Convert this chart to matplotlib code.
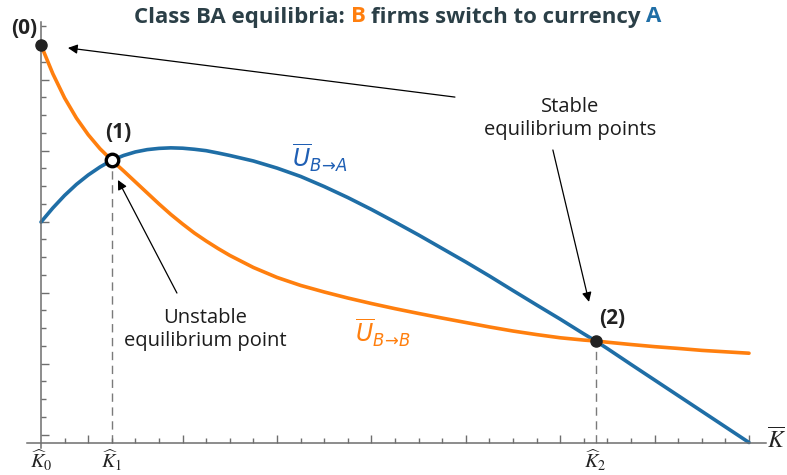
import matplotlib
matplotlib.use('Agg')
import matplotlib.pyplot as plt

# 颜色
ORANGE = '#ff7f0e'
BLUE = '#1f6ea6'
BLUE_TXT = '#1f5fb4'
DARK = '#2b3f47'
INK = '#1c1c1c'
AXIS = '#6e6e6e'
FONT = 'Open Sans'

# 曲线采样 (横轴 K̄，纵轴 Ū)
k_grid = [0, 0.5, 1, 1.5, 2, 2.5, 3, 3.5, 4, 4.5, 5, 5.5, 6, 6.5, 7, 7.5, 8,
          9, 10, 11, 12, 13, 14, 15, 16, 17, 18, 19, 20, 21, 22, 23, 23.5,
          24, 25, 26, 27, 28, 29, 30]
u_bb = [22.39, 20.78, 19.41, 18.28, 17.34, 16.55, 15.9, 15.30, 14.68, 14.06, 13.44,
        12.85, 12.31, 11.80, 11.35, 10.93, 10.54,
        9.86, 9.30, 8.85, 8.48, 8.14, 7.83, 7.54, 7.27, 7.01, 6.76, 6.51, 6.28,
        6.08, 5.90, 5.77, 5.72,
        5.65, 5.52, 5.40, 5.30, 5.19, 5.11, 5.03]
u_ba = [12.42, 13.21, 13.92, 14.54, 15.07, 15.52, 15.9, 16.17, 16.37, 16.50, 16.57,
        16.60, 16.58, 16.52, 16.44, 16.31, 16.17,
        15.86, 15.46, 14.99, 14.42, 13.80, 13.13, 12.42, 11.69, 10.93, 10.17, 9.38,
        8.56, 7.75, 6.95, 6.12, 5.72,
        5.29, 4.40, 3.52, 2.64, 1.76, 0.88, 0.0]

# 均衡点
k_hat = [0, 3, 23.5]
u_eq = [22.39, 15.9, 5.72]
k_labels = [r'$\widehat{K}_{\mathit{0}}$', r'$\widehat{K}_{\mathit{1}}$', r'$\widehat{K}_{\mathit{2}}$']
eq_names = ['(0)', '(1)', '(2)']

# 坐标轴刻度
x_major = [2, 6, 10, 14, 18, 22, 26, 30]
x_minor = [k for k in range(1, 31) if k not in x_major]
y_major = [0.45 + 4 * i for i in range(6)]
y_minor = [0.45 + i for i in range(24) if i % 4 != 0]

W, H = 787, 475
X0, Y0 = 41, 442.5      # 原点像素位置
SX, SY = 23.6, 17.75    # 每单位像素

fig = plt.figure(figsize=(W / 100, H / 100), dpi=100)
ax = fig.add_axes([0, 0, 1, 1])
ax.set_xlim(-X0 / SX, (W - X0) / SX)
ax.set_ylim((Y0 - H) / SY, Y0 / SY)

# 坐标轴
for s in ['top', 'right']:
    ax.spines[s].set_visible(False)
ax.spines['left'].set_position(('data', 0))
ax.spines['bottom'].set_position(('data', 0))
ax.spines['left'].set_bounds(-0.3, 23.7)
ax.spines['bottom'].set_bounds(-0.6, 30.7)
for s in ['left', 'bottom']:
    ax.spines[s].set_color(AXIS)
    ax.spines[s].set_linewidth(1.1)
ax.set_xticks(x_major)
ax.set_xticks(x_minor, minor=True)
ax.set_yticks(y_major)
ax.set_yticks(y_minor, minor=True)
ax.tick_params(which='both', direction='in', color=AXIS, width=1,
               labelbottom=False, labelleft=False)
ax.tick_params(which='major', length=6)
ax.tick_params(which='minor', length=3.4)

# 均衡点竖虚线
for k, u in zip(k_hat[1:], u_eq[1:]):
    ax.plot([k, k], [0, u], color='#7a7a7a', lw=1, dashes=(6, 4), zorder=1)

ax.plot(k_grid, u_ba, color=BLUE, lw=2.6, solid_capstyle='round',
        solid_joinstyle='round', zorder=2)
ax.plot(k_grid, u_bb, color=ORANGE, lw=2.6, solid_capstyle='round',
        solid_joinstyle='round', zorder=3)

# 均衡点
ax.plot(k_hat[0], u_eq[0], 'o', ms=8, color='#222222', zorder=5, clip_on=False)
ax.plot(k_hat[1], u_eq[1], 'o', ms=9, mfc='white', mec='black', mew=2.4, zorder=5)
ax.plot(k_hat[2], u_eq[2], 'o', ms=8, color='#222222', zorder=5)

label_pos = [(-0.72, 23.35), (3.26, 17.44), (24.2, 7.01)]
for name, (x, y) in zip(eq_names, label_pos):
    ax.text(x, y, name, ha='center', va='center', fontsize=15, fontweight='bold',
            color='#222222', family=FONT)

# 横轴标注
for k, lab in zip(k_hat, k_labels):
    ax.text(k, -0.32, lab, ha='center', va='top', fontsize=14.5, color='#222222',
            math_fontfamily='stix')
ax.text(30.76, 0.1, r'$\overline{K}$', ha='left', va='center', fontsize=17,
        color='#222222', math_fontfamily='stix')

# 曲线名称
ax.text(11.82, 16.03, r'$\overline{U}_{B\!\to\!A}$', ha='center', va='center',
        fontsize=17, color=BLUE_TXT, math_fontfamily='dejavusans')
ax.text(14.49, 6.17, r'$\overline{U}_{B\!\to\!B}$', ha='center', va='center',
        fontsize=17, color=ORANGE, math_fontfamily='dejavusans')

# 注释与箭头
arrow = dict(arrowstyle='-|>', lw=0.9, color='black', mutation_scale=14,
             shrinkA=0, shrinkB=0)
ax.text(22.42, 18.28, 'Stable\nequilibrium points', ha='center', va='center',
        fontsize=14.5, color=INK, family=FONT, linespacing=1.2)
ax.annotate('', xy=(1.14, 22.23), xytext=(17.54, 19.46), arrowprops=arrow)
ax.annotate('', xy=(23.22, 7.92), xytext=(21.69, 16.48), arrowprops=arrow)
ax.text(6.95, 6.34, 'Unstable\nequilibrium point', ha='center', va='center',
        fontsize=14.5, color=INK, family=FONT, linespacing=1.2)
ax.annotate('', xy=(3.26, 14.79), xytext=(5.76, 8.42), arrowprops=arrow)

# 多色标题
pieces = [('Class BA equilibria:', DARK), ('B', ORANGE),
          ('firms switch to currency', DARK), ('A', BLUE)]
fig.canvas.draw()
r = fig.canvas.get_renderer()


def text_width(s):
    t = fig.text(0, 0, s, fontsize=16, fontweight='bold', family=FONT)
    w = t.get_window_extent(r).width
    t.remove()
    return w


gap = text_width('a a') - text_width('aa')
widths = [text_width(s) for s, _ in pieces]
total = sum(widths) + gap * (len(pieces) - 1)
x = 398 - total / 2
for (s, c), w in zip(pieces, widths):
    fig.text(x / W, 1 - 17 / H, s, fontsize=16, fontweight='bold', family=FONT,
             color=c, ha='left', va='center')
    x += w + gap

fig.savefig('out.png', dpi=100)
